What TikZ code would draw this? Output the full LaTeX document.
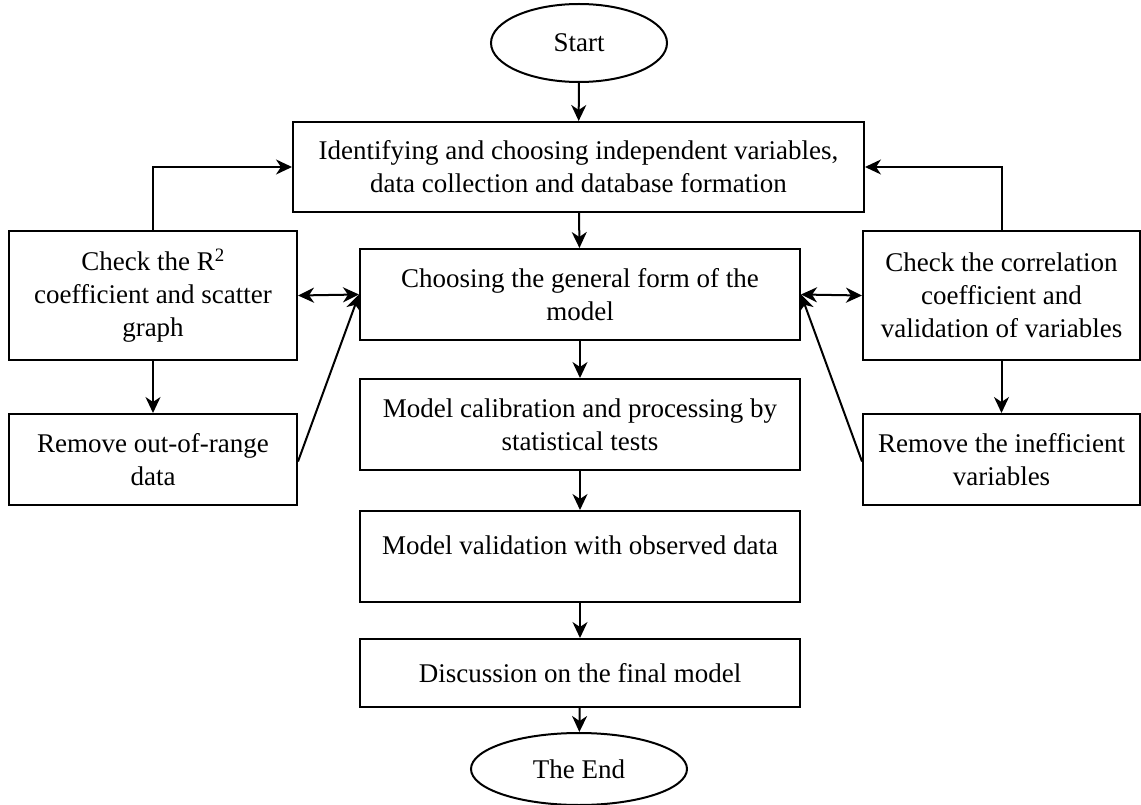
\documentclass[tikz,border=0pt]{standalone}
\usepackage{fontspec}
\setmainfont{Liberation Serif}
\usetikzlibrary{shapes.geometric,arrows.meta}

\begin{document}
\begin{tikzpicture}
        [x=1pt, y=-1pt, line width=2pt, font=\fontsize{27}{33}\selectfont,
        box/.style={draw, rectangle, align=center, inner sep=2pt},
        term/.style={draw, ellipse, inner sep=0pt},
        flow/.style={-{Stealth[length=16pt, width=15pt, inset=5pt]}},
        both/.style={{Stealth[length=16pt, width=15pt, inset=5pt]}-{Stealth[length=16pt, width=15pt, inset=5pt]}}]

        \useasboundingbox (0,0) rectangle (1141,805);

        \node[term, minimum width=176, minimum height=78] (start) at (579,43) {Start};
        \node[box, minimum width=571, minimum height=90] (ident) at (578.5,167)
            {Identifying and choosing independent variables,\\ data collection and database formation};
        \node[box, minimum width=440, minimum height=91] (form) at (580,294.5)
            {Choosing the general form of the\\ model};
        \node[box, minimum width=440, minimum height=91] (calib) at (580,424.5)
            {Model calibration and processing by\\ statistical tests};
        \node[box, minimum width=440, minimum height=91, text depth=22pt] (valid) at (580,556.5)
            {Model validation with observed data};
        \node[box, minimum width=440, minimum height=68] (disc) at (580,673)
            {Discussion on the final model};
        \node[term, minimum width=216, minimum height=72] (end) at (579,769) {The End};

        % left side
        \node[box, minimum width=288, minimum height=129] (rsq) at (153,295.5)
            {Check the R\textsuperscript{2}\\ coefficient and scatter\\ graph};
        \node[box, minimum width=288, minimum height=91] (range) at (153,459.5)
            {Remove out-of-range\\ data};

        % right side
        \node[box, minimum width=277, minimum height=129] (corr) at (1001.5,295.5)
            {Check the correlation\\ coefficient and\\ validation of variables};
        \node[box, minimum width=277, minimum height=91] (ineff) at (1001.5,459.5)
            {Remove the inefficient\\ variables};

        % main flow
        \draw[flow] (start) -- (ident);
        \draw[flow] (ident) -- (form);
        \draw[flow] (form) -- (calib);
        \draw[flow] (calib) -- (valid);
        \draw[flow] (valid) -- (disc);
        \draw[flow] (disc) -- (end);

        % feedback loops
        \draw[flow] (rsq.north) |- (ident.west);
        \draw[flow] (corr.north) |- (ident.east);
        \draw[both] (rsq.east) -- (form.west);
        \draw[both] (corr.west) -- (form.east);
        \draw[flow] (rsq) -- (range);
        \draw[flow] (corr) -- (ineff);
        \draw[flow] ([yshift=-2]range.east) -- (form.west);
        \draw[flow] ([yshift=-2]ineff.west) -- (form.east);

        \end{tikzpicture}
\end{document}
